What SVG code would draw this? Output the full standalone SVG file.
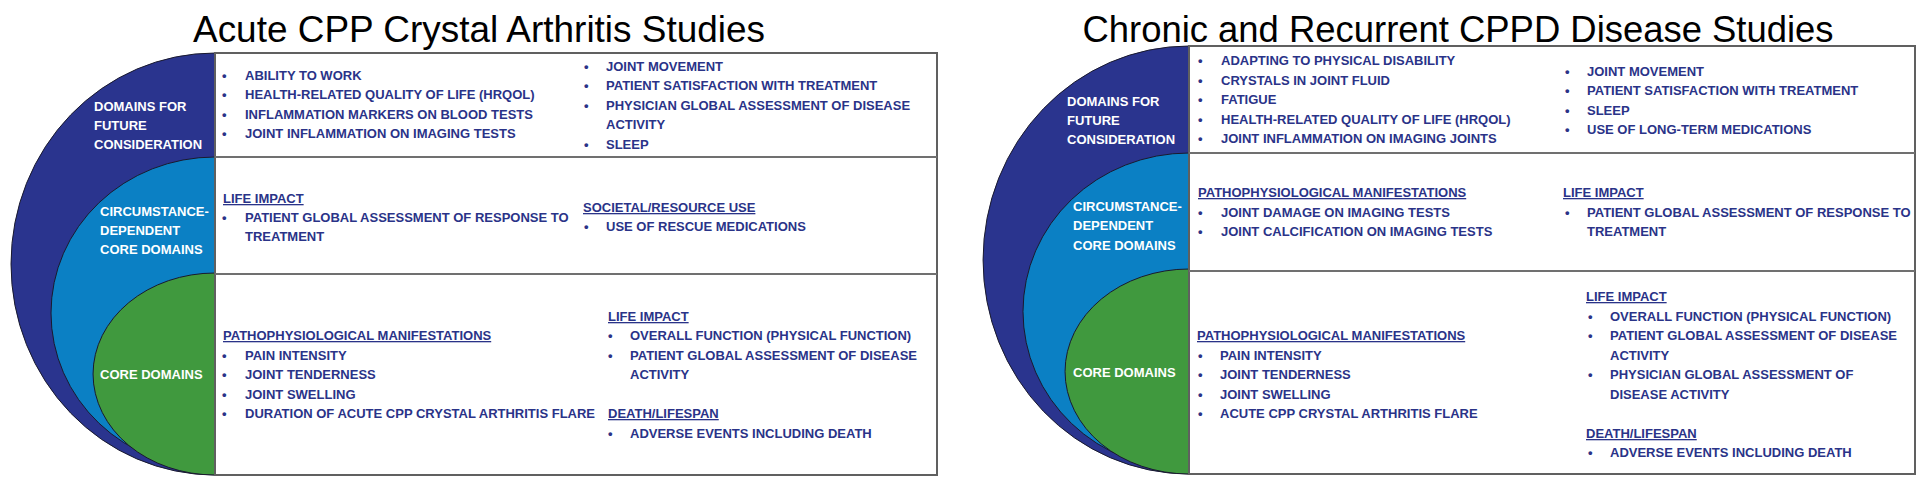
<svg xmlns="http://www.w3.org/2000/svg" width="1920" height="489" viewBox="0 0 1920 489">
<style>
.title{font-family:"Liberation Sans",Arial,sans-serif;font-size:36.6px;fill:#000;text-anchor:middle}
.t{font-family:"Liberation Sans",Arial,sans-serif;font-weight:bold;font-size:13px;fill:#2a3388}
.lbl{font-family:"Liberation Sans",Arial,sans-serif;font-weight:bold;font-size:13px;fill:#fff}
.hd{text-decoration:underline}
.box{fill:#fff;stroke:#606060;stroke-width:2}
.div{stroke:#707070;stroke-width:2}
.outline{stroke:#1a1a2e;stroke-width:1}
.dk{fill:#2a348e}
.md{fill:#0b80c4}
.gr{fill:#40993e}
</style>
<defs>
<clipPath id="clipL"><rect x="0" y="40" width="216" height="437"/></clipPath>
<clipPath id="clipR"><rect x="960" y="30" width="230" height="446"/></clipPath>
</defs>
<rect width="1920" height="489" fill="#fff"/>

<!-- LEFT PANEL -->
<text class="title" x="479" y="42" textLength="572" lengthAdjust="spacingAndGlyphs">Acute CPP Crystal Arthritis Studies</text>

<g id="left-shapes" clip-path="url(#clipL)">
<path class="dk outline" d="M215,53 A204,211 0 0 0 215,475 Z"/>
<path class="md outline" d="M215,157 A164,156 0 0 0 215,469 Z"/>
<path class="gr outline" d="M215,273 A122,101 0 0 0 215,475 Z"/>
</g>

<g id="left-future">
<text class="lbl" x="94" y="111">DOMAINS FOR</text>
<text class="lbl" x="94" y="130">FUTURE</text>
<text class="lbl" x="94" y="149">CONSIDERATION</text>
</g>
<g id="left-circumstance">
<text class="lbl" x="100" y="216">CIRCUMSTANCE-</text>
<text class="lbl" x="100" y="235">DEPENDENT</text>
<text class="lbl" x="100" y="254">CORE DOMAINS</text>
</g>
<g id="left-core">
<text class="lbl" x="100" y="379">CORE DOMAINS</text>
</g>

<g id="left-table">
<rect class="box" x="215" y="53" width="722" height="422"/>
<line class="div" x1="215" y1="157" x2="937" y2="157"/>
<line class="div" x1="215" y1="274" x2="937" y2="274"/>
</g>

<g id="left-row-future">
<text class="t" x="222" y="80">•</text><text class="t" x="245" y="80">ABILITY TO WORK</text>
<text class="t" x="222" y="99.3">•</text><text class="t" x="245" y="99.3">HEALTH-RELATED QUALITY OF LIFE (HRQOL)</text>
<text class="t" x="222" y="118.6">•</text><text class="t" x="245" y="118.6">INFLAMMATION MARKERS ON BLOOD TESTS</text>
<text class="t" x="222" y="138">•</text><text class="t" x="245" y="138">JOINT INFLAMMATION ON IMAGING TESTS</text>
<text class="t" x="584" y="71">•</text><text class="t" x="606" y="71">JOINT MOVEMENT</text>
<text class="t" x="584" y="90.4">•</text><text class="t" x="606" y="90.4">PATIENT SATISFACTION WITH TREATMENT</text>
<text class="t" x="584" y="109.8">•</text><text class="t" x="606" y="109.8">PHYSICIAN GLOBAL ASSESSMENT OF DISEASE</text>
<text class="t" x="606" y="129.2">ACTIVITY</text>
<text class="t" x="584" y="148.6">•</text><text class="t" x="606" y="148.6">SLEEP</text>
</g>

<g id="left-row-circumstance">
<text class="t hd" x="223" y="203">LIFE IMPACT</text>
<text class="t" x="222" y="222">•</text><text class="t" x="245" y="222">PATIENT GLOBAL ASSESSMENT OF RESPONSE TO</text>
<text class="t" x="245" y="241">TREATMENT</text>
<text class="t hd" x="583" y="212">SOCIETAL/RESOURCE USE</text>
<text class="t" x="584" y="231">•</text><text class="t" x="606" y="231">USE OF RESCUE MEDICATIONS</text>
</g>

<g id="left-row-core">
<text class="t hd" x="223" y="340">PATHOPHYSIOLOGICAL MANIFESTATIONS</text>
<text class="t" x="222" y="359.5">•</text><text class="t" x="245" y="359.5">PAIN INTENSITY</text>
<text class="t" x="222" y="379">•</text><text class="t" x="245" y="379">JOINT TENDERNESS</text>
<text class="t" x="222" y="398.5">•</text><text class="t" x="245" y="398.5">JOINT SWELLING</text>
<text class="t" x="222" y="418">•</text><text class="t" x="245" y="418">DURATION OF ACUTE CPP CRYSTAL ARTHRITIS FLARE</text>
<text class="t hd" x="608" y="321">LIFE IMPACT</text>
<text class="t" x="608" y="340">•</text><text class="t" x="630" y="340">OVERALL FUNCTION (PHYSICAL FUNCTION)</text>
<text class="t" x="608" y="359.5">•</text><text class="t" x="630" y="359.5">PATIENT GLOBAL ASSESSMENT OF DISEASE</text>
<text class="t" x="630" y="379">ACTIVITY</text>
<text class="t hd" x="608" y="418">DEATH/LIFESPAN</text>
<text class="t" x="608" y="437.5">•</text><text class="t" x="630" y="437.5">ADVERSE EVENTS INCLUDING DEATH</text>
</g>

<!-- RIGHT PANEL -->
<text class="title" x="1458" y="42" textLength="751" lengthAdjust="spacingAndGlyphs">Chronic and Recurrent CPPD Disease Studies</text>

<g id="right-shapes" clip-path="url(#clipR)">
<path class="dk outline" d="M1189,46 A206,214 0 0 0 1189,474 Z"/>
<path class="md outline" d="M1189,153 A166,158.5 0 0 0 1189,470 Z"/>
<path class="gr outline" d="M1189,269 A124,102.5 0 0 0 1189,474 Z"/>
</g>

<g id="right-future">
<text class="lbl" x="1067" y="106">DOMAINS FOR</text>
<text class="lbl" x="1067" y="125">FUTURE</text>
<text class="lbl" x="1067" y="144">CONSIDERATION</text>
</g>
<g id="right-circumstance">
<text class="lbl" x="1073" y="211">CIRCUMSTANCE-</text>
<text class="lbl" x="1073" y="230">DEPENDENT</text>
<text class="lbl" x="1073" y="250">CORE DOMAINS</text>
</g>
<g id="right-core">
<text class="lbl" x="1073" y="377">CORE DOMAINS</text>
</g>

<g id="right-table">
<rect class="box" x="1189" y="46" width="726" height="428"/>
<line class="div" x1="1189" y1="153" x2="1915" y2="153"/>
<line class="div" x1="1189" y1="271" x2="1915" y2="271"/>
</g>

<g id="right-row-future">
<text class="t" x="1198" y="65">•</text><text class="t" x="1221" y="65">ADAPTING TO PHYSICAL DISABILITY</text>
<text class="t" x="1198" y="84.5">•</text><text class="t" x="1221" y="84.5">CRYSTALS IN JOINT FLUID</text>
<text class="t" x="1198" y="104">•</text><text class="t" x="1221" y="104">FATIGUE</text>
<text class="t" x="1198" y="123.5">•</text><text class="t" x="1221" y="123.5">HEALTH-RELATED QUALITY OF LIFE (HRQOL)</text>
<text class="t" x="1198" y="143">•</text><text class="t" x="1221" y="143">JOINT INFLAMMATION ON IMAGING JOINTS</text>
<text class="t" x="1565" y="76">•</text><text class="t" x="1587" y="76">JOINT MOVEMENT</text>
<text class="t" x="1565" y="95.3">•</text><text class="t" x="1587" y="95.3">PATIENT SATISFACTION WITH TREATMENT</text>
<text class="t" x="1565" y="114.6">•</text><text class="t" x="1587" y="114.6">SLEEP</text>
<text class="t" x="1565" y="134">•</text><text class="t" x="1587" y="134">USE OF LONG-TERM MEDICATIONS</text>
</g>

<g id="right-row-circumstance">
<text class="t hd" x="1198" y="197">PATHOPHYSIOLOGICAL MANIFESTATIONS</text>
<text class="t" x="1198" y="217">•</text><text class="t" x="1221" y="217">JOINT DAMAGE ON IMAGING TESTS</text>
<text class="t" x="1198" y="236">•</text><text class="t" x="1221" y="236">JOINT CALCIFICATION ON IMAGING TESTS</text>
<text class="t hd" x="1563" y="197">LIFE IMPACT</text>
<text class="t" x="1565" y="217">•</text><text class="t" x="1587" y="217">PATIENT GLOBAL ASSESSMENT OF RESPONSE TO</text>
<text class="t" x="1587" y="236">TREATMENT</text>
</g>

<g id="right-row-core">
<text class="t hd" x="1197" y="340">PATHOPHYSIOLOGICAL MANIFESTATIONS</text>
<text class="t" x="1198" y="359.5">•</text><text class="t" x="1220" y="359.5">PAIN INTENSITY</text>
<text class="t" x="1198" y="379">•</text><text class="t" x="1220" y="379">JOINT TENDERNESS</text>
<text class="t" x="1198" y="398.5">•</text><text class="t" x="1220" y="398.5">JOINT SWELLING</text>
<text class="t" x="1198" y="418">•</text><text class="t" x="1220" y="418">ACUTE CPP CRYSTAL ARTHRITIS FLARE</text>
<text class="t hd" x="1586" y="301">LIFE IMPACT</text>
<text class="t" x="1588" y="321">•</text><text class="t" x="1610" y="321">OVERALL FUNCTION (PHYSICAL FUNCTION)</text>
<text class="t" x="1588" y="340">•</text><text class="t" x="1610" y="340">PATIENT GLOBAL ASSESSMENT OF DISEASE</text>
<text class="t" x="1610" y="359.5">ACTIVITY</text>
<text class="t" x="1588" y="379">•</text><text class="t" x="1610" y="379">PHYSICIAN GLOBAL ASSESSMENT OF</text>
<text class="t" x="1610" y="398.5">DISEASE ACTIVITY</text>
<text class="t hd" x="1586" y="438">DEATH/LIFESPAN</text>
<text class="t" x="1588" y="457">•</text><text class="t" x="1610" y="457">ADVERSE EVENTS INCLUDING DEATH</text>
</g>

<g id="connectors"/>
</svg>
